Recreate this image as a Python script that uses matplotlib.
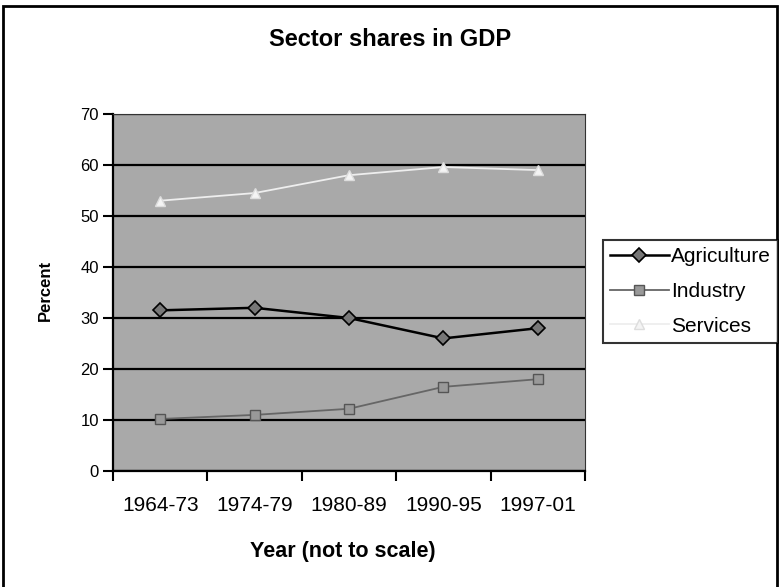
import numpy as np
import matplotlib.pyplot as plt
from matplotlib.patches import Rectangle

plt.rcParams['font.family'] = ['Liberation Sans', 'DejaVu Sans']

# data
periods = ['1964-73', '1974-79', '1980-89', '1990-95', '1997-01']
agriculture = [31.5, 32.0, 30.0, 26.0, 28.0]
industry = [10.2, 11.0, 12.2, 16.5, 18.0]
services = [53.0, 54.5, 58.0, 59.6, 59.0]

fig = plt.figure(figsize=(7.79, 5.87), dpi=100)
ax = fig.add_axes([113/779, 1-471/587, (585-113)/779, (471-114)/587])
ax.set_facecolor('#a9a9a9')

x = np.arange(len(periods))
ax.plot(x, agriculture, color='black', lw=1.8, marker='D', ms=7,
        mfc='#777777', mec='black', mew=1.2, label='Agriculture')
ax.plot(x, industry, color='#666666', lw=1.3, marker='s', ms=7,
        mfc='#999999', mec='#555555', mew=1, label='Industry')
ax.plot(x, services, color='#eeeeee', lw=1.3, marker='^', ms=7,
        mfc='#f4f4f4', mec='#dddddd', mew=1, label='Services')

ax.set_ylim(0, 70)
ax.set_yticks(range(0, 71, 10))
ax.set_xlim(-0.5, len(periods) - 0.5)
ax.set_xticks(x)
ax.set_xticklabels(periods)
ax.set_xticks(np.arange(-0.5, len(periods)), minor=True)
ax.tick_params(axis='x', which='major', length=0, pad=18, labelsize=15)
ax.tick_params(axis='x', which='minor', length=7, width=1.5, direction='out')
ax.tick_params(axis='y', length=7, width=1.5, direction='out', labelsize=12, pad=3)
ax.grid(axis='y', color='black', lw=1.6)
ax.set_axisbelow(True)
for side in ['top', 'right']:
    ax.spines[side].set_color('#333333')
    ax.spines[side].set_linewidth(0.8)
for side in ['left', 'bottom']:
    ax.spines[side].set_linewidth(1.6)

fig.text(390/779, 1-40/587, 'Sector shares in GDP', ha='center', va='center',
         fontsize=17, fontweight='bold')
fig.text(343/779, 1-552/587, 'Year (not to scale)', ha='center', va='center',
         fontsize=15.5, fontweight='bold')
fig.text(45/779, 1-290/587, 'Percent', ha='center', va='center',
         fontsize=12, fontweight='bold', rotation=90)

leg = fig.legend(loc='upper left', bbox_to_anchor=(603/779, 1-240/587),
                 frameon=True, fancybox=False, edgecolor='black',
                 fontsize=15, handlelength=2.8, labelspacing=0.75,
                 borderpad=0.35, handletextpad=0.1, borderaxespad=0)
leg.get_frame().set_linewidth(1.5)
leg.get_frame().set_facecolor('white')

fig.patches.append(Rectangle((3/779, -0.01), 774/779, 1.0, transform=fig.transFigure,
                             fill=False, edgecolor='black', lw=2))

fig.savefig('out.png', dpi=100)
